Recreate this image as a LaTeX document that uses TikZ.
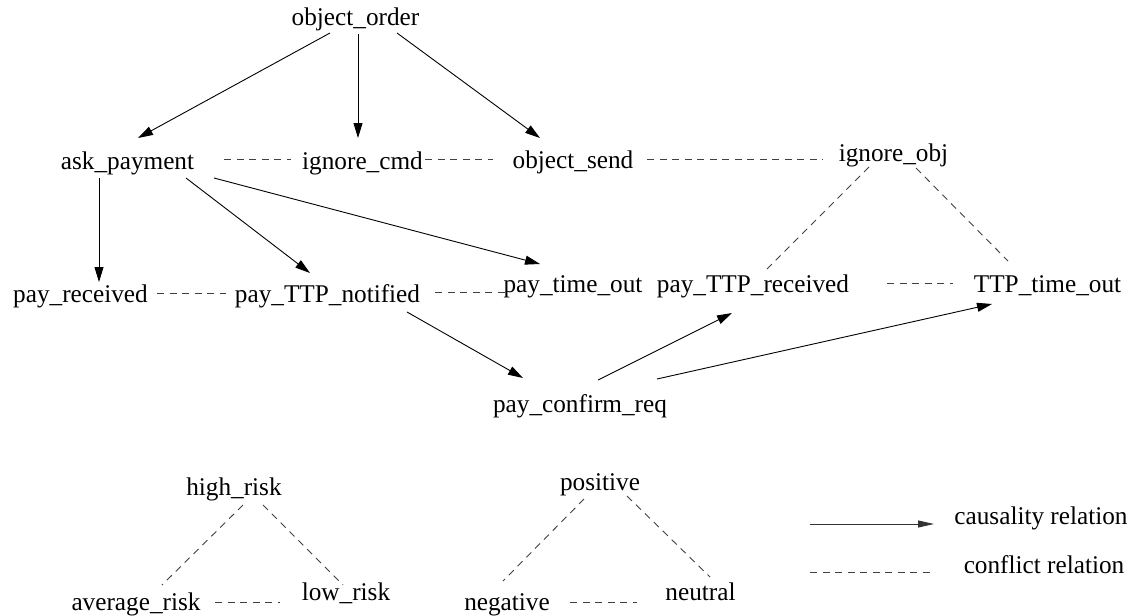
\documentclass[tikz,border=0pt]{standalone}
\usepackage{fontspec}
\setmainfont{Liberation Serif}[FakeStretch=0.99]
\usetikzlibrary{arrows.meta}
\begin{document}
\begin{tikzpicture}[x=1pt,y=-1pt,
  lbl/.style={inner sep=0pt,anchor=base,font=\fontsize{25.5}{30}\selectfont},
  cause/.style={line width=0.9pt,-{Triangle[length=15pt,width=9pt]}},
  conflict/.style={line width=0.9pt,black!75,dash pattern=on 7pt off 5.5pt}]
\useasboundingbox (0,0) rectangle (1133,616);
% nodes
\node[lbl] (oo)  at (355.5,25)    {object\_order};
\node[lbl] (ap)  at (127.5,169)   {ask\_payment};
\node[lbl] (ic)  at (362.5,169)   {ignore\_cmd};
\node[lbl] (os)  at (573,168)     {object\_send};
\node[lbl] (io)  at (893.5,161.7) {ignore\_obj};
\node[lbl] (pr)  at (80.5,302.7)  {pay\_received};
\node[lbl] (pn)  at (327.5,302.7) {pay\_TTP\_notified};
\node[lbl] (pt)  at (573,292.7)   {pay\_time\_out};
\node[lbl] (ptr) at (753,292.7)   {pay\_TTP\_received};
\node[lbl] (tt)  at (1047.5,292.7){TTP\_time\_out};
\node[lbl] (pc)  at (580,412.7)   {pay\_confirm\_req};
\node[lbl] (hr)  at (234,495)     {high\_risk};
\node[lbl] (ar)  at (136,610)     {average\_risk};
\node[lbl] (lr)  at (346,600.7)   {low\_risk};
\node[lbl] (po)  at (600,490)     {positive};
\node[lbl] (ne)  at (507,610)     {negative};
\node[lbl] (nu)  at (700.5,600.7) {neutral};
\node[lbl] (lg1) at (1041,524)    {causality relation};
\node[lbl] (lg2) at (1044,573)    {conflict relation};
% causality arrows
\draw[cause] ([shift={(-25.5,8)}]oo.base)  -- ([shift={(10.5,-31)}]ap.base);
\draw[cause] ([shift={(2.5,9)}]oo.base)    -- ([shift={(-4.5,-31)}]ic.base);
\draw[cause] ([shift={(41.5,8)}]oo.base)   -- ([shift={(-33,-30)}]os.base);
\draw[cause] ([shift={(-28.5,9)}]ap.base)  -- ([shift={(18.5,-20.7)}]pr.base);
\draw[cause] ([shift={(58.5,9)}]ap.base)   -- ([shift={(-17.5,-29.7)}]pn.base);
\draw[cause] ([shift={(86.5,9)}]ap.base)   -- ([shift={(-33,-28.7)}]pt.base);
\draw[cause] ([shift={(79.5,9.3)}]pn.base) -- ([shift={(-57,-34.7)}]pc.base);
\draw[cause] ([shift={(18,-32.7)}]pc.base) -- ([shift={(-21,20.3)}]ptr.base);
\draw[cause] ([shift={(77,-33.7)}]pc.base) -- ([shift={(-55.5,11.3)}]tt.base);
% conflict relations
\draw[conflict] ([shift={(96.5,-10)}]ap.base)   -- ([shift={(-71.5,-10)}]ic.base);
\draw[conflict] ([shift={(62.5,-10)}]ic.base)   -- ([shift={(-80,-9)}]os.base);
\draw[conflict] ([shift={(74,-9)}]os.base)      -- ([shift={(-70.5,-2.7)}]io.base);
\draw[conflict] ([shift={(76.5,-9.7)}]pr.base)  -- ([shift={(-101.5,-9.7)}]pn.base);
\draw[conflict] ([shift={(107.5,-10.7)}]pn.base)-- ([shift={(-68,-0.7)}]pt.base);
\draw[conflict] ([shift={(134,-9.7)}]ptr.base)  -- ([shift={(-94.5,-9.7)}]tt.base);
\draw[conflict] ([shift={(-24.5,5.3)}]io.base)  -- ([shift={(14,-23.7)}]ptr.base);
\draw[conflict] ([shift={(22.5,6.3)}]io.base)   -- ([shift={(-39.5,-31.7)}]tt.base);
\draw[conflict] ([shift={(9,10)}]hr.base)       -- ([shift={(26,-25)}]ar.base);
\draw[conflict] ([shift={(29,10)}]hr.base)      -- ([shift={(-3,-15.7)}]lr.base);
\draw[conflict] ([shift={(79,-8)}]ar.base)      -- ([shift={(-66,1.3)}]lr.base);
\draw[conflict] ([shift={(-16,9)}]po.base)      -- ([shift={(-4,-29)}]ne.base);
\draw[conflict] ([shift={(27,6)}]po.base)       -- ([shift={(9.5,-23.7)}]nu.base);
\draw[conflict] ([shift={(63,-8)}]ne.base)      -- ([shift={(-63.5,1.3)}]nu.base);
% legend
\coordinate (la1) at (810,524);
\coordinate (la2) at (934,524);
\coordinate (lb1) at (810,572);
\coordinate (lb2) at (935,572);
\draw[line width=0.9pt,black!80,-{Triangle[length=16pt,width=7pt]}] (la1) -- (la2);
\draw[conflict] (lb1) -- (lb2);
\end{tikzpicture}
\end{document}
